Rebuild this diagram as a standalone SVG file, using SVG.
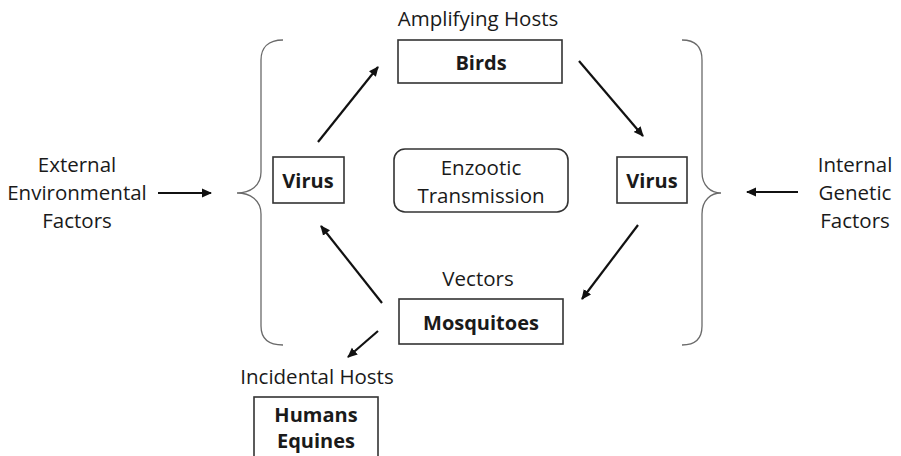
<svg xmlns="http://www.w3.org/2000/svg" width="901" height="456" viewBox="0 0 901 456">
  <defs>
    <marker id="arrow" viewBox="0 0 10 10" refX="9" refY="5" markerWidth="10" markerHeight="10" markerUnits="userSpaceOnUse" orient="auto">
      <path d="M0,0.5 L10,5 L0,9.5 z" fill="#111"/>
    </marker>
    <style>
      .lbl { font-family: "Open Sans", "Liberation Sans", sans-serif; font-size: 20.5px; fill: #1a1a1a; text-anchor: middle; }
      .bold { font-weight: bold; font-size: 20px; }
      .box { fill: #fff; stroke: #333; stroke-width: 1.6; }
      .brace { fill: none; stroke: #6a6a6a; stroke-width: 1.3; }
      .conn { stroke: #111; stroke-width: 2.2; fill: none; marker-end: url(#arrow); }
    </style>
  </defs>

  <rect width="901" height="456" fill="#fff"/>

  <!-- Curly braces around the cycle -->
  <g id="braces">
    <path class="brace" d="M283,40 C268,40 261,48 261,60 L261,172 C261,186 250,193 237,193 C250,193 261,200 261,214 L261,326 C261,338 268,345 283,345"/>
    <path class="brace" d="M682,40 C696,40 702,48 702,60 L702,172 C702,186 711,193 721,193 C711,193 702,200 702,214 L702,326 C702,338 696,345 682,345"/>
  </g>

  <!-- Side factors -->
  <g id="external">
    <text class="lbl" x="77" y="172">External</text>
    <text class="lbl" x="77" y="200">Environmental</text>
    <text class="lbl" x="77" y="228">Factors</text>
  </g>
  <g id="internal">
    <text class="lbl" x="855" y="172">Internal</text>
    <text class="lbl" x="855" y="200">Genetic</text>
    <text class="lbl" x="855" y="228">Factors</text>
  </g>

  <!-- Nodes -->
  <g id="birds">
    <text class="lbl" x="478" y="26">Amplifying Hosts</text>
    <rect class="box" x="398" y="40" width="164" height="43"/>
    <text class="lbl bold" x="481" y="70">Birds</text>
  </g>
  <g id="virus-left">
    <rect class="box" x="273" y="157" width="71" height="46"/>
    <text class="lbl bold" x="308" y="188">Virus</text>
  </g>
  <g id="virus-right">
    <rect class="box" x="617" y="157" width="70" height="46"/>
    <text class="lbl bold" x="652" y="188">Virus</text>
  </g>
  <g id="enzootic">
    <rect class="box" x="394" y="149" width="174" height="63" rx="11" ry="11"/>
    <text class="lbl" x="481" y="175">Enzootic</text>
    <text class="lbl" x="481" y="203">Transmission</text>
  </g>
  <g id="mosquitoes">
    <text class="lbl" x="478" y="286">Vectors</text>
    <rect class="box" x="399" y="299" width="164" height="45"/>
    <text class="lbl bold" x="481" y="330">Mosquitoes</text>
  </g>
  <g id="humans">
    <text class="lbl" x="317" y="384">Incidental Hosts</text>
    <rect class="box" x="254" y="397" width="124" height="80"/>
    <text class="lbl bold" x="316" y="422">Humans</text>
    <text class="lbl bold" x="316" y="448">Equines</text>
  </g>

  <!-- Connectors -->
  <g id="connectors">
    <line class="conn" x1="318" y1="142" x2="378" y2="67"/>
    <line class="conn" x1="579" y1="61" x2="643" y2="136"/>
    <line class="conn" x1="638" y1="225" x2="582" y2="299"/>
    <line class="conn" x1="382" y1="303" x2="321" y2="226"/>
    <line class="conn" x1="378" y1="331" x2="348" y2="357"/>
    <line class="conn" x1="158" y1="193" x2="211" y2="193"/>
    <line class="conn" x1="798" y1="192" x2="747" y2="192"/>
  </g>
</svg>
